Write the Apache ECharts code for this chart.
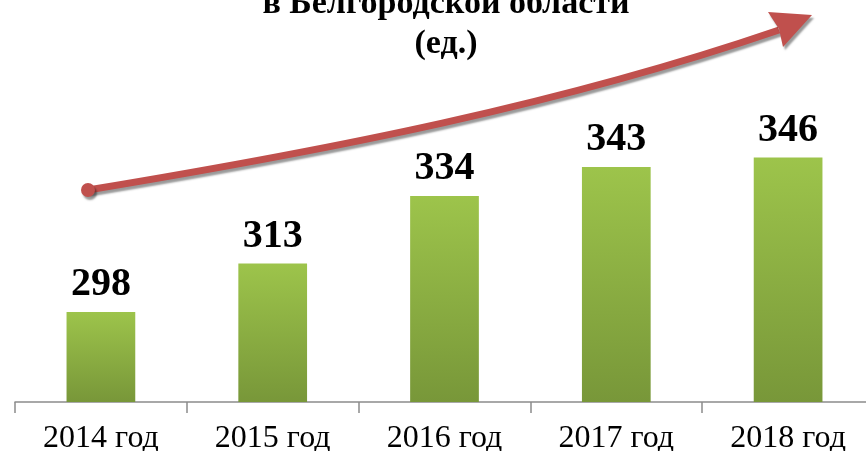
<!DOCTYPE html>
<html>
<head>
<meta charset="utf-8">
<script src="https://cdn.jsdelivr.net/npm/echarts@6/dist/echarts.min.js"></script>
<style>
  html, body { margin: 0; padding: 0; background: #fff; }
  #chart { width: 866px; height: 451px; }
</style>
</head>
<body>
<div id="chart"></div>
<script>
const categories = ['2014 год', '2015 год', '2016 год', '2017 год', '2018 год']
const values = [298, 313, 334, 343, 346]
const titleText = 'в Белгородской области\n(ед.)'

const chart = echarts.init(document.getElementById('chart'))

const serif = '"Liberation Serif", "DejaVu Serif", serif'

const option = {
  animation: false,
  title: {
    text: titleText,
    left: 441,
    top: -21,
    textAlign: 'center',
    textStyle: {
      fontFamily: serif,
      fontSize: 34,
      fontWeight: 'bold',
      color: '#000',
      lineHeight: 40
    }
  },
  grid: {
    left: 15,
    right: -8,
    top: 48,
    bottom: 49,
    outerBoundsMode: 'none'
  },
  xAxis: {
    type: 'category',
    data: categories,
    axisLine: { lineStyle: { color: '#8c8c8c', width: 1.5 } },
    axisTick: { show: true, length: 11, lineStyle: { color: '#8c8c8c', width: 1.5 } },
    axisLabel: {
      color: '#000',
      fontFamily: serif,
      fontSize: 32,
      margin: 21
    }
  },
  yAxis: {
    type: 'value',
    min: 270,
    max: 380,
    show: false
  },
  series: [
    {
      type: 'bar',
      data: values,
      barWidth: '40%',
      itemStyle: {
        color: new echarts.graphic.LinearGradient(0, 0, 0, 1, [
          { offset: 0, color: '#9dc44b' },
          { offset: 1, color: '#789739' }
        ])
      },
      label: {
        show: true,
        position: 'top',
        distance: 7,
        fontFamily: serif,
        fontSize: 40,
        fontWeight: 'bold',
        color: '#000'
      }
    }
  ],
  graphic: [
    {
      type: 'bezierCurve',
      shape: { x1: 88, y1: 190, cpx1: 330, cpy1: 150, cpx2: 560, cpy2: 105, x2: 779, y2: 30 },
      style: {
        stroke: '#c0504d',
        lineWidth: 7,
        fill: null,
        shadowColor: 'rgba(0,0,0,0.4)',
        shadowBlur: 2,
        shadowOffsetX: 2,
        shadowOffsetY: 3
      },
      z: 10
    },
    {
      type: 'circle',
      shape: { cx: 88, cy: 190, r: 7 },
      style: {
        fill: '#c0504d',
        shadowColor: 'rgba(0,0,0,0.4)',
        shadowBlur: 2,
        shadowOffsetX: 2,
        shadowOffsetY: 3
      },
      z: 10
    },
    {
      type: 'polygon',
      shape: { points: [[768, 12], [812, 15], [783, 47], [779, 29]] },
      style: {
        fill: '#c0504d',
        shadowColor: 'rgba(0,0,0,0.4)',
        shadowBlur: 2,
        shadowOffsetX: 2,
        shadowOffsetY: 3
      },
      z: 10
    }
  ]
}

chart.setOption(option)
</script>
</body>
</html>
